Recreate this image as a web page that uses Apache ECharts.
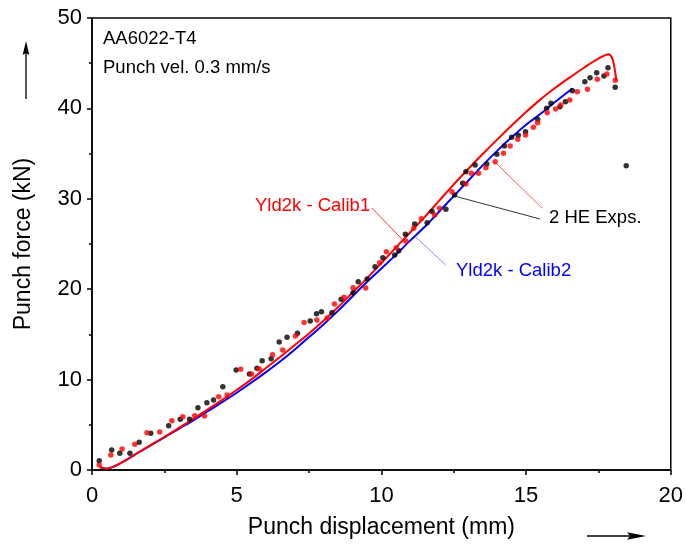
<!DOCTYPE html>
<html>
<head>
<meta charset="utf-8">
<script src="https://cdn.jsdelivr.net/npm/echarts@6/dist/echarts.min.js"></script>
<style>html,body{margin:0;padding:0;background:#fff;}#c{width:686px;height:548px;}</style>
</head>
<body>
<div id="c"></div>
<script>
// ---- data ----
const xTicks = [0, 5, 10, 15, 20];
const yTicks = [0, 10, 20, 30, 40, 50];

// Simulation Yld2k - Calib1 (red line)
const calib1Curve = [
  [0.27,0.3],[0.5,0.15],[0.8,0.45],[1.1,0.95],[1.5,1.75],[2.0,2.7],[2.5,3.65],[3.0,4.65],
  [3.5,5.65],[4.0,6.7],[4.5,7.75],[5.0,8.85],[5.5,10.0],[6.0,11.25],[6.5,12.5],
  [7.0,13.8],[7.5,15.1],[8.0,16.5],[8.5,18.0],[9.0,19.6],[9.5,21.2],[10.0,22.9],
  [10.5,24.6],[11.0,26.3],[11.5,28.0],[12.0,29.8],[12.5,31.6],[13.0,33.3],[13.5,34.95],
  [14.0,36.55],[14.5,38.1],[15.0,39.6],[15.5,41.0],[16.0,42.25],[16.5,43.4],[17.0,44.5],
  [17.5,45.5],[17.85,46.0],[17.97,45.6],[18.05,44.6],[18.12,43.1]
];

// Simulation Yld2k - Calib2 (blue line)
const calib2Curve = [
  [0.27,0.3],[0.5,0.15],[0.8,0.45],[1.1,0.95],[1.5,1.74],[2.0,2.68],[2.5,3.61],[3.0,4.56],
  [3.5,5.5],[4.0,6.5],[4.5,7.5],[5.0,8.55],[5.5,9.65],[6.0,10.8],[6.5,12.0],
  [7.0,13.3],[7.5,14.7],[8.0,16.1],[8.5,17.6],[9.0,19.2],[9.5,20.8],[10.0,22.3],
  [10.5,23.8],[11.0,25.4],[11.5,26.9],[12.0,28.6],[12.5,30.3],[13.0,32.0],[13.5,33.7],
  [14.0,35.3],[14.5,36.8],[15.0,38.2],[15.5,39.4],[16.0,40.7],[16.6,42.2]
];

// Experiment 1 (black dots)
const exp1Points = [
  [0.25,1.03],[0.68,2.21],[0.96,1.85],[1.31,1.85],[1.63,3.06],[2.03,4.06],[2.65,4.90],
  [3.05,5.61],[3.37,5.61],[3.66,6.89],[3.97,7.44],[4.20,7.74],[4.52,9.21],[4.98,11.06],
  [5.44,10.62],[5.70,11.25],[5.88,12.09],[6.19,12.31],[6.47,14.16],[6.74,14.68],
  [7.10,15.12],[7.54,16.48],[7.76,17.29],[7.93,17.51],[8.29,17.40],[8.61,18.88],
  [9.02,19.61],[9.20,20.83],[9.51,21.13],[9.78,22.49],[10.05,23.48],[10.46,23.78],
  [10.60,24.26],[10.83,26.07],[11.15,27.21],[11.58,27.36],[11.75,28.60],[12.23,28.84],
  [12.53,30.42],[12.81,31.71],[12.92,33.00],[13.24,33.74],[13.64,33.85],[13.99,34.92],
  [14.25,35.84],[14.50,36.80],[14.73,37.02],[14.98,37.42],[15.40,38.79],[15.71,40.01],
  [15.86,40.56],[16.17,40.19],[16.36,40.74],[16.60,41.96],[17.03,42.95],[17.21,43.40],
  [17.44,43.95],[17.69,43.58],[17.83,44.50],[18.08,42.33],[18.46,33.66]
];

// Experiment 2 (red dots)
const exp2Points = [
  [0.25,0.55],[0.65,1.66],[1.04,2.32],[1.48,2.84],[1.90,4.13],[2.34,4.20],[2.76,5.45],
  [3.14,5.90],[3.55,6.01],[3.89,5.97],[4.38,8.11],[4.67,8.30],[5.14,11.14],[5.51,10.62],
  [5.78,11.17],[6.24,12.75],[6.59,13.27],[7.03,14.82],[7.33,16.32],[7.77,16.59],
  [8.13,16.81],[8.38,18.36],[8.71,19.10],[9.02,20.15],[9.46,20.13],[9.94,22.93],
  [10.17,24.15],[10.51,24.59],[10.85,25.30],[11.12,26.74],[11.38,27.80],[11.84,28.21],
  [12.01,28.95],[12.44,30.79],[12.92,31.64],[13.11,32.82],[13.36,32.82],[13.61,33.44],
  [13.93,34.10],[14.22,35.03],[14.45,35.84],[14.71,36.58],[14.98,37.06],[15.25,37.91],
  [15.40,38.42],[15.73,39.52],[16.02,39.93],[16.20,40.38],[16.51,40.93],[16.77,41.85],
  [17.12,42.11],[17.46,43.22],[17.79,43.81],[18.08,43.11]
];

// annotation leader lines (data coordinates)
const leaderCalib1 = [[9.67,28.98],[10.81,25.22]];
const leaderCalib2 = [[11.15,25.88],[12.22,22.68]];
const leaderExpBlack = [[15.48,27.77],[12.61,30.23]];
const leaderExpRed = [[15.56,28.95],[13.93,34.04]];

// ---- chart ----
const FONT = 'Arial, "Liberation Sans", sans-serif';
const chart = echarts.init(document.getElementById('c'), null, {renderer: 'canvas'});

function leader(seg, color) {
  return [{coord: seg[0], lineStyle: {color: color, width: 0.8, type: 'solid'}}, {coord: seg[1]}];
}

const axisCommon = {
  axisLine: {show: true, onZero: false, lineStyle: {color: '#000', width: 1.5}},
  axisTick: {show: true, inside: false, length: 5, lineStyle: {color: '#000', width: 1.5}},
  minorTick: {show: true, splitNumber: 2, length: 3, lineStyle: {color: '#000', width: 1.5}},
  splitLine: {show: false}
};

const option = {
  backgroundColor: '#fff',
  animation: false,
  grid: {left: 92, right: 13, top: 18, bottom: 78, show: true, borderColor: '#000', borderWidth: 1.5, containLabel: false},
  xAxis: Object.assign({
    type: 'value', min: xTicks[0], max: xTicks[xTicks.length - 1], interval: xTicks[1] - xTicks[0],
    name: 'Punch displacement (mm)', nameLocation: 'middle', nameGap: 58,
    nameTextStyle: {fontFamily: FONT, fontSize: 23, color: '#000', verticalAlign: 'middle'},
    axisLabel: {fontFamily: FONT, fontSize: 22, color: '#000', margin: 15}
  }, axisCommon),
  yAxis: Object.assign({
    type: 'value', min: yTicks[0], max: yTicks[yTicks.length - 1], interval: yTicks[1] - yTicks[0],
    name: 'Punch force (kN)', nameLocation: 'middle', nameGap: 68, nameRotate: 90,
    nameTextStyle: {fontFamily: FONT, fontSize: 23, color: '#000', verticalAlign: 'middle'},
    axisLabel: {fontFamily: FONT, fontSize: 22, color: '#000', margin: 10}
  }, axisCommon),
  series: [
    {
      name: 'Yld2k - Calib2', type: 'line', data: calib2Curve, showSymbol: false, smooth: 0.3,
      lineStyle: {color: '#0000ff', width: 2}, z: 2,
      markLine: {silent: true, symbol: ['none', 'none'], label: {show: false}, lineStyle: {type: 'solid'},
        data: [leader(leaderCalib2, '#6f6fff')]}
    },
    {
      name: 'Yld2k - Calib1', type: 'line', data: calib1Curve, showSymbol: false, smooth: 0.3,
      lineStyle: {color: '#ff0000', width: 2}, z: 3,
      markLine: {silent: true, symbol: ['none', 'none'], label: {show: false}, lineStyle: {type: 'solid'},
        data: [leader(leaderCalib1, '#ff0000'), leader(leaderExpRed, '#ff3030'), leader(leaderExpBlack, '#000000')]}
    },
    {
      name: 'Exp 1', type: 'scatter', data: exp1Points, symbol: 'circle', symbolSize: 5.5,
      itemStyle: {color: '#000'}, z: 4
    },
    {
      name: 'Exp 2', type: 'scatter', data: exp2Points, symbol: 'circle', symbolSize: 5.5,
      itemStyle: {color: '#ff0000'}, z: 5
    }
  ],
  graphic: [
    {type: 'text', x: 103, y: 39, style: {text: 'AA6022-T4', font: '18.5px ' + FONT, fill: '#000', verticalAlign: 'middle'}},
    {type: 'text', x: 103, y: 68, style: {text: 'Punch vel. 0.3 mm/s', font: '18.5px ' + FONT, fill: '#000', verticalAlign: 'middle'}},
    {type: 'text', x: 255, y: 206, style: {text: 'Yld2k - Calib1', font: '18.5px ' + FONT, fill: '#ff0000', verticalAlign: 'middle'}},
    {type: 'text', x: 456, y: 271, style: {text: 'Yld2k - Calib2', font: '18.5px ' + FONT, fill: '#0000ff', verticalAlign: 'middle'}},
    {type: 'text', x: 549, y: 218, style: {text: '2 HE Exps.', font: '18.5px ' + FONT, fill: '#000', verticalAlign: 'middle'}},
    // vertical arrow (y direction)
    {type: 'line', shape: {x1: 26, y1: 99, x2: 26, y2: 52}, style: {stroke: '#000', lineWidth: 1.3}},
    {type: 'polygon', shape: {points: [[26, 41], [29.3, 55], [26, 53], [22.7, 55]]}, style: {fill: '#000'}},
    // horizontal arrow (x direction)
    {type: 'line', shape: {x1: 587, y1: 536, x2: 636, y2: 536}, style: {stroke: '#000', lineWidth: 1.3}},
    {type: 'polygon', shape: {points: [[646, 536], [627, 539.8], [630, 536], [627, 532.2]]}, style: {fill: '#000'}}
  ]
};
chart.setOption(option);
</script>
</body>
</html>
